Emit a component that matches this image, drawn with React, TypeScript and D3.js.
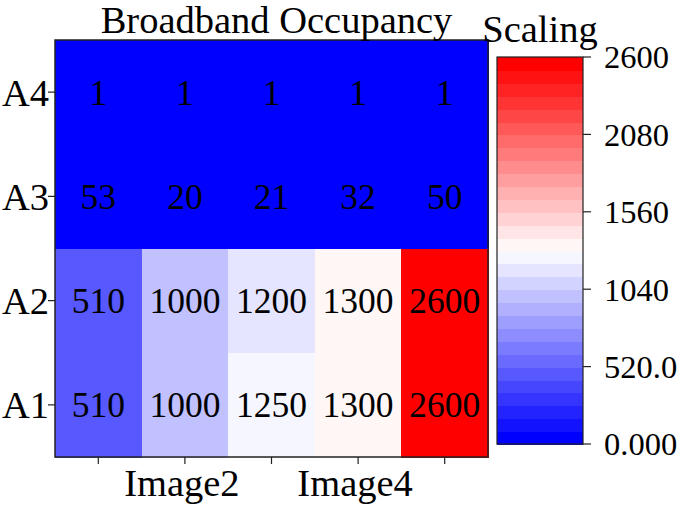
import React from 'react';
import * as d3 from 'd3';

const rows = ['A4', 'A3', 'A2', 'A1'];
const columns = ['Image1', 'Image2', 'Image3', 'Image4', 'Image5'];
const xTickLabels = ['', 'Image2', '', 'Image4', ''];
const valuesA4 = [1, 1, 1, 1, 1];
const valuesA3 = [53, 20, 21, 32, 50];
const valuesA2 = [510, 1000, 1200, 1300, 2600];
const valuesA1 = [510, 1000, 1250, 1300, 2600];
const cbTicks = [0, 520, 1040, 1560, 2080, 2600];
const cbTickLabels = ['0.000', '520.0', '1040', '1560', '2080', '2600'];

const title = 'Broadband Occupancy';
const cbTitle = 'Scaling';
const vmin = 0;
const vmax = 2600;
const levels = 30;

const FONT = '"Liberation Serif", "Times New Roman", serif';

// matplotlib 'bwr' resampled into discrete levels
function bwr(t: number) {
	let r, g, b;
	if (t < 0.5) {
		r = 2 * t; g = 2 * t; b = 1;
	} else {
		r = 1; g = 2 * (1 - t); b = 2 * (1 - t);
	}
	return d3.rgb(r * 255, g * 255, b * 255).formatHex();
}

function colorFor(v: number) {
	let i = Math.floor(((v - vmin) / (vmax - vmin)) * levels);
	i = Math.max(0, Math.min(levels - 1, i));
	return bwr(i / (levels - 1));
}

export default function App() {
	const data = [valuesA4, valuesA3, valuesA2, valuesA1];

	const left = 55, right = 488, top = 40, bottom = 457;
	const x = d3.scaleBand().domain(columns).range([left, right]);
	const y = d3.scaleBand().domain(rows).range([top, bottom]);

	const cbLeft = 497, cbRight = 583, cbTop = 57, cbBottom = 444;
	const cbScale = d3.scaleLinear().domain([vmin, vmax]).range([cbBottom, cbTop]);
	const bands = d3.range(levels);
	const step = (vmax - vmin) / levels;

	const labelFs = 38.5;
	const cellFs = 35.5;
	const cbFs = 32.5;

	return (
		<div style={{ position: 'absolute', left: 0, top: 0 }}>
			<svg width={685} height={508} style={{ display: 'block', background: '#fff' }}>
				<g fontFamily={FONT}>
					{/* heatmap cells */}
					<g shapeRendering="crispEdges">
						{data.map((row, ri) =>
							row.map((v, ci) => (
								<rect
									key={`c${ri}-${ci}`}
									x={x(columns[ci])}
									y={y(rows[ri])}
									width={x.bandwidth() + 1}
									height={y.bandwidth() + 1}
									fill={colorFor(v)}
								/>
							))
						)}
					</g>
					{data.map((row, ri) =>
						row.map((v, ci) => (
							<text
								key={`t${ri}-${ci}`}
								x={x(columns[ci])! + x.bandwidth() / 2}
								y={y(rows[ri])! + y.bandwidth() / 2}
								dy="0.35em"
								textAnchor="middle"
								fontSize={cellFs}
								fill="#000"
							>
								{v}
							</text>
						))
					)}
					<rect x={left} y={top} width={right - left} height={bottom - top}
						fill="none" stroke="#222" strokeWidth={1.5} />

					{/* y axis */}
					{rows.map(r => {
						const yy = y(r)! + y.bandwidth() / 2;
						return (
							<g key={r}>
								<line x1={left - 7} x2={left} y1={yy} y2={yy} stroke="#222" strokeWidth={1.2} />
								<text x={left - 6} y={yy} dy="0.35em" textAnchor="end" fontSize={labelFs}>{r}</text>
							</g>
						);
					})}

					{/* x axis */}
					{columns.map((c, i) => {
						const xx = x(c)! + x.bandwidth() / 2;
						return (
							<g key={c}>
								<line x1={xx} x2={xx} y1={bottom} y2={bottom + 7} stroke="#222" strokeWidth={1.2} />
								<text x={xx - 3} y={bottom + 39} textAnchor="middle" fontSize={labelFs}>{xTickLabels[i]}</text>
							</g>
						);
					})}

					<text x={(left + right) / 2 + 5} y={33} textAnchor="middle" fontSize={labelFs}>{title}</text>

					{/* colorbar */}
					<g shapeRendering="crispEdges">
						{bands.map(i => (
							<rect
								key={`b${i}`}
								x={cbLeft}
								y={cbScale(vmin + (i + 1) * step)}
								width={cbRight - cbLeft}
								height={cbScale(vmin + i * step) - cbScale(vmin + (i + 1) * step) + 1}
								fill={bwr(i / (levels - 1))}
							/>
						))}
					</g>
					<rect x={cbLeft} y={cbTop} width={cbRight - cbLeft} height={cbBottom - cbTop}
						fill="none" stroke="#222" strokeWidth={1.2} />
					{cbTicks.map((t, i) => (
						<g key={`ct${i}`}>
							<line x1={cbRight} x2={cbRight + 8} y1={cbScale(t)} y2={cbScale(t)} stroke="#222" strokeWidth={1.2} />
							<text x={cbRight + 21} y={cbScale(t)} dy="0.35em" fontSize={cbFs}>{cbTickLabels[i]}</text>
						</g>
					))}
					<text x={(cbLeft + cbRight) / 2} y={42} textAnchor="middle" fontSize={labelFs}>{cbTitle}</text>
				</g>
			</svg>
		</div>
	);
}
